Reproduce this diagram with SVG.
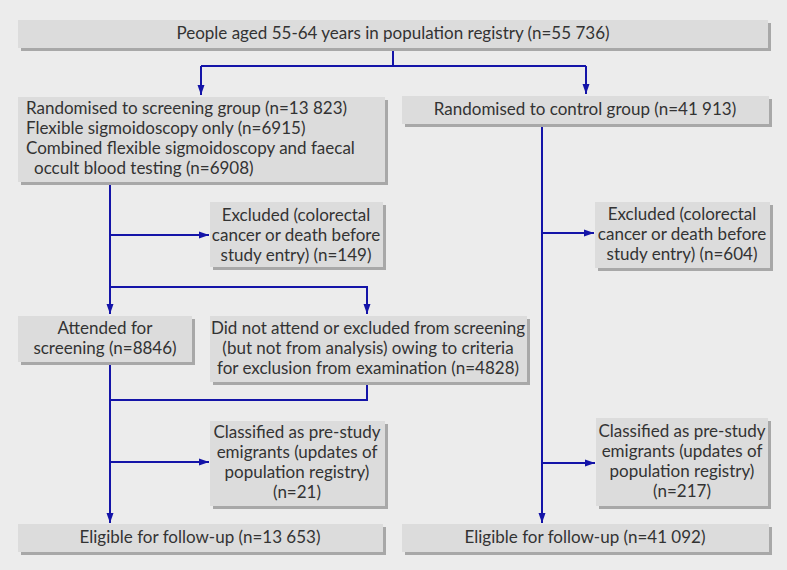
<svg xmlns="http://www.w3.org/2000/svg" width="787" height="570" viewBox="0 0 787 570">
<style>
.box{fill:#dcdcdc}
.sh{fill:#a8a8a8}
text{font-family:Lato,"Liberation Sans",sans-serif;font-size:17px;fill:#333}
.c{text-anchor:middle}
.ln{stroke:#1414a8;stroke-width:2;fill:none}
</style>
<defs>
<marker id="ah" viewBox="0 0 10 10" refX="10" refY="5" markerWidth="6" markerHeight="5" markerUnits="strokeWidth" orient="auto"><path d="M0,1.5 L10,5 L0,8.5 z" fill="#1414a8"/></marker>
</defs>
<rect width="787" height="570" fill="#ececec"/>
<g id="connectors">
<path class="ln" d="M393,48 V66"/>
<path class="ln" d="M201,66 H586"/>
<path class="ln" d="M201,66 V95" marker-end="url(#ah)"/>
<path class="ln" d="M586,66 V94" marker-end="url(#ah)"/>
<path class="ln" d="M110,182 V314" marker-end="url(#ah)"/>
<path class="ln" d="M110,235 H209" marker-end="url(#ah)"/>
<path class="ln" d="M110,287 H367 V314" marker-end="url(#ah)"/>
<path class="ln" d="M110,362 V523" marker-end="url(#ah)"/>
<path class="ln" d="M367,382 V400 H110"/>
<path class="ln" d="M110,462 H209" marker-end="url(#ah)"/>
<path class="ln" d="M542,123 V523" marker-end="url(#ah)"/>
<path class="ln" d="M542,233 H594" marker-end="url(#ah)"/>
<path class="ln" d="M542,463 H595" marker-end="url(#ah)"/>
</g>
<g id="top"><rect class="sh" x="21" y="23" width="750" height="28"/><rect class="box" x="18" y="20" width="750" height="28"/><text class="c" x="393" y="39">People aged 55-64 years in population registry (n=55 736)</text></g>
<g id="screen"><rect class="sh" x="21" y="100" width="367" height="85"/><rect class="box" x="18" y="97" width="367" height="85"/>
<text x="26" y="114">Randomised to screening group (n=13 823)</text>
<text x="26" y="134">Flexible sigmoidoscopy only (n=6915)</text>
<text x="26" y="154">Combined flexible sigmoidoscopy and faecal</text>
<text x="34" y="174">occult blood testing (n=6908)</text></g>
<g id="control"><rect class="sh" x="405" y="99" width="367" height="28"/><rect class="box" x="402" y="96" width="367" height="28"/><text class="c" x="585" y="115">Randomised to control group (n=41 913)</text></g>
<g id="excl1"><rect class="sh" x="213" y="205" width="173" height="65"/><rect class="box" x="210" y="202" width="173" height="65"/>
<text class="c" x="296" y="221">Excluded (colorectal</text><text class="c" x="296" y="241">cancer or death before</text><text class="c" x="296" y="261">study entry) (n=149)</text></g>
<g id="excl2"><rect class="sh" x="598" y="205" width="175" height="66"/><rect class="box" x="595" y="202" width="175" height="66"/>
<text class="c" x="682" y="220">Excluded (colorectal</text><text class="c" x="682" y="240">cancer or death before</text><text class="c" x="682" y="260">study entry) (n=604)</text></g>
<g id="attended"><rect class="sh" x="21" y="319" width="174" height="46"/><rect class="box" x="18" y="316" width="174" height="46"/>
<text class="c" x="105" y="334">Attended for</text><text class="c" x="105" y="354">screening (n=8846)</text></g>
<g id="notattend"><rect class="sh" x="213" y="319" width="317" height="66"/><rect class="box" x="210" y="316" width="317" height="66"/>
<text class="c" x="368" y="334">Did not attend or excluded from screening</text><text class="c" x="368" y="354">(but not from analysis) owing to criteria</text><text class="c" x="368" y="374">for exclusion from examination (n=4828)</text></g>
<g id="class1"><rect class="sh" x="213" y="424" width="175" height="85"/><rect class="box" x="210" y="421" width="175" height="85"/>
<text class="c" x="297" y="438">Classified as pre-study</text><text class="c" x="297" y="458">emigrants (updates of</text><text class="c" x="297" y="478">population registry)</text><text class="c" x="297" y="498">(n=21)</text></g>
<g id="class2"><rect class="sh" x="599" y="421" width="172" height="88"/><rect class="box" x="596" y="418" width="172" height="88"/>
<text class="c" x="682" y="437">Classified as pre-study</text><text class="c" x="682" y="457">emigrants (updates of</text><text class="c" x="682" y="477">population registry)</text><text class="c" x="682" y="497">(n=217)</text></g>
<g id="elig1"><rect class="sh" x="21" y="527" width="365" height="28"/><rect class="box" x="18" y="524" width="365" height="28"/><text class="c" x="200" y="543">Eligible for follow-up (n=13 653)</text></g>
<g id="elig2"><rect class="sh" x="405" y="527" width="367" height="28"/><rect class="box" x="402" y="524" width="367" height="28"/><text class="c" x="585" y="543">Eligible for follow-up (n=41 092)</text></g>
</svg>
